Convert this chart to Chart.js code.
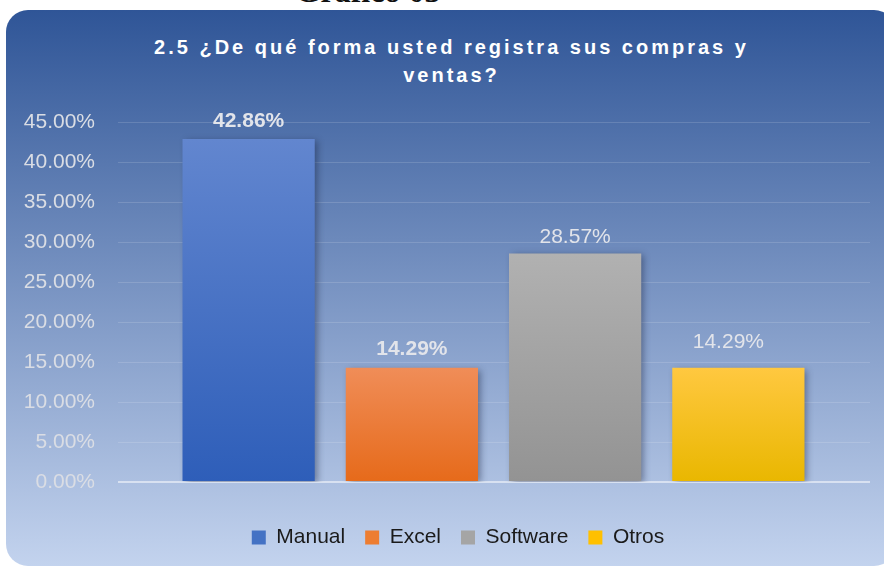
<!DOCTYPE html>
<html>
<head>
<meta charset="utf-8">
<script src="https://cdn.jsdelivr.net/npm/chart.js@4.4.0/dist/chart.umd.min.js"></script>
<style>
  body { margin: 0; width: 884px; height: 567px; overflow: hidden; position: relative; background: #fff; }
  #caption { position: absolute; left: 0; width: 736px; top: -27px; text-align: center;
             font: bold 32px 'Liberation Serif', 'Times New Roman', serif; color: #111; }
  #panel { position: absolute; left: 6px; top: 10px; width: 890px; height: 556px; border-radius: 22px;
           background: linear-gradient(#2f5597, #c3d3ee); }
  #title { position: absolute; left: 0; top: 33px; width: 903px; text-align: center; color: #fff;
           font: bold 20px 'Liberation Sans', Arial, sans-serif; letter-spacing: 3px; line-height: 28px; }
  canvas { position: absolute; left: 0; top: 0; }
</style>
</head>
<body>
<div id="caption">Gráfico 03</div>
<div id="panel"></div>
<div id="title">2.5 ¿De qué forma usted registra sus compras y<br>ventas?</div>
<canvas id="chart" width="884" height="567"></canvas>
<script>
// datos del gráfico
const categorias = ['Manual', 'Excel', 'Software', 'Otros'];
const porcentajes = [42.86, 14.29, 28.57, 14.29];
const ejeMax = 45;
const ejePaso = 5;

// colores de las barras (arriba / abajo) y del cuadro de la leyenda
const colorArriba = ['#6286cf', '#f08d58', '#b1b1b1', '#ffc840'];
const colorAbajo = ['#2e5eb9', '#e66a1a', '#939393', '#e9b700'];
const colorLeyenda = ['#4472c4', '#ed7d31', '#a5a5a5', '#ffc000'];

const fuente = "'Liberation Sans', Arial, sans-serif";

const gridColor = ctx => ctx.tick && ctx.tick.value === 0 ? '#d8e1f1' : 'rgba(255,255,255,0.14)';
const gridWidth = ctx => ctx.tick && ctx.tick.value === 0 ? 2 : 1;

// sombra de las barras
const sombraBarras = {
    id: 'sombraBarras',
    beforeDatasetsDraw(chart) {
        const c = chart.ctx;
        c.save();
        c.shadowColor = 'rgba(20,30,60,0.45)';
        c.shadowBlur = 7;
        c.shadowOffsetX = 3;
        c.shadowOffsetY = 2;
    },
    afterDatasetsDraw(chart) {
        chart.ctx.restore();
    }
};

// etiquetas de valor encima de cada barra
const etiquetas = {
    id: 'etiquetas',
    afterDatasetsDraw(chart) {
        const c = chart.ctx;
        const negrita = [true, true, false, false];
        const dx = [0, 0, 0, -10];
        const dy = [18, 18, 16, 25];
        chart.getDatasetMeta(0).data.forEach((bar, i) => {
            c.save();
            c.font = (negrita[i] ? 'bold ' : '') + '21px ' + fuente;
            c.fillStyle = '#e2e4ea';
            c.textAlign = 'center';
            c.textBaseline = 'middle';
            c.fillText(porcentajes[i].toFixed(2) + '%', bar.x + dx[i], bar.y - dy[i]);
            c.restore();
        });
    }
};

const ctx = document.getElementById('chart').getContext('2d');
const grafico = new Chart(ctx, {
    type: 'bar',
    data: {
        labels: categorias,
        datasets: [{
            label: 'Porcentaje',
            data: porcentajes,
            backgroundColor: context => {
                const chart = context.chart;
                const y = chart.scales.y;
                if (!y || !chart.chartArea) return colorLeyenda[context.dataIndex];
                const i = context.dataIndex;
                const g = chart.ctx.createLinearGradient(0, y.getPixelForValue(porcentajes[i]), 0, y.getPixelForValue(0));
                g.addColorStop(0, colorArriba[i]);
                g.addColorStop(1, colorAbajo[i]);
                return g;
            },
            borderWidth: 0,
            barPercentage: 0.81,
            categoryPercentage: 1
        }]
    },
    options: {
        responsive: false,
        animation: false,
        layout: { padding: { left: 18, right: -14, top: 122, bottom: 9 } },
        plugins: {
            title: { display: false },
            tooltip: { enabled: false },
            legend: {
                position: 'bottom',
                labels: {
                    boxWidth: 14,
                    boxHeight: 14,
                    padding: 20,
                    color: '#1a1a1a',
                    font: { family: fuente, size: 21 },
                    generateLabels: () => categorias.map((c, i) => ({
                        text: c,
                        fillStyle: colorLeyenda[i],
                        strokeStyle: colorLeyenda[i],
                        lineWidth: 0,
                        fontColor: '#1a1a1a',
                        hidden: false,
                        index: i
                    }))
                }
            }
        },
        scales: {
            x: {
                offset: true,
                ticks: { display: false },
                grid: { drawOnChartArea: false, drawTicks: true, tickLength: 25, color: 'rgba(0,0,0,0)' },
                border: { display: false }
            },
            y: {
                min: 0,
                max: ejeMax,
                ticks: {
                    stepSize: ejePaso,
                    padding: 23,
                    color: '#dadde4',
                    font: { family: fuente, size: 21 },
                    callback: v => v.toFixed(2) + '%'
                },
                grid: { color: gridColor, lineWidth: gridWidth, tickLength: 49 },
                border: { display: false },
                afterFit(s) { s.width = 149; }
            },
            y2: {
                position: 'right',
                min: 0,
                max: ejeMax,
                ticks: { stepSize: ejePaso, display: false },
                grid: { drawOnChartArea: false, color: gridColor, lineWidth: gridWidth, tickLength: 50 },
                border: { display: false },
                afterFit(s) { s.width = 78; }
            }
        }
    },
    plugins: [sombraBarras, etiquetas]
});
</script>
</body>
</html>
